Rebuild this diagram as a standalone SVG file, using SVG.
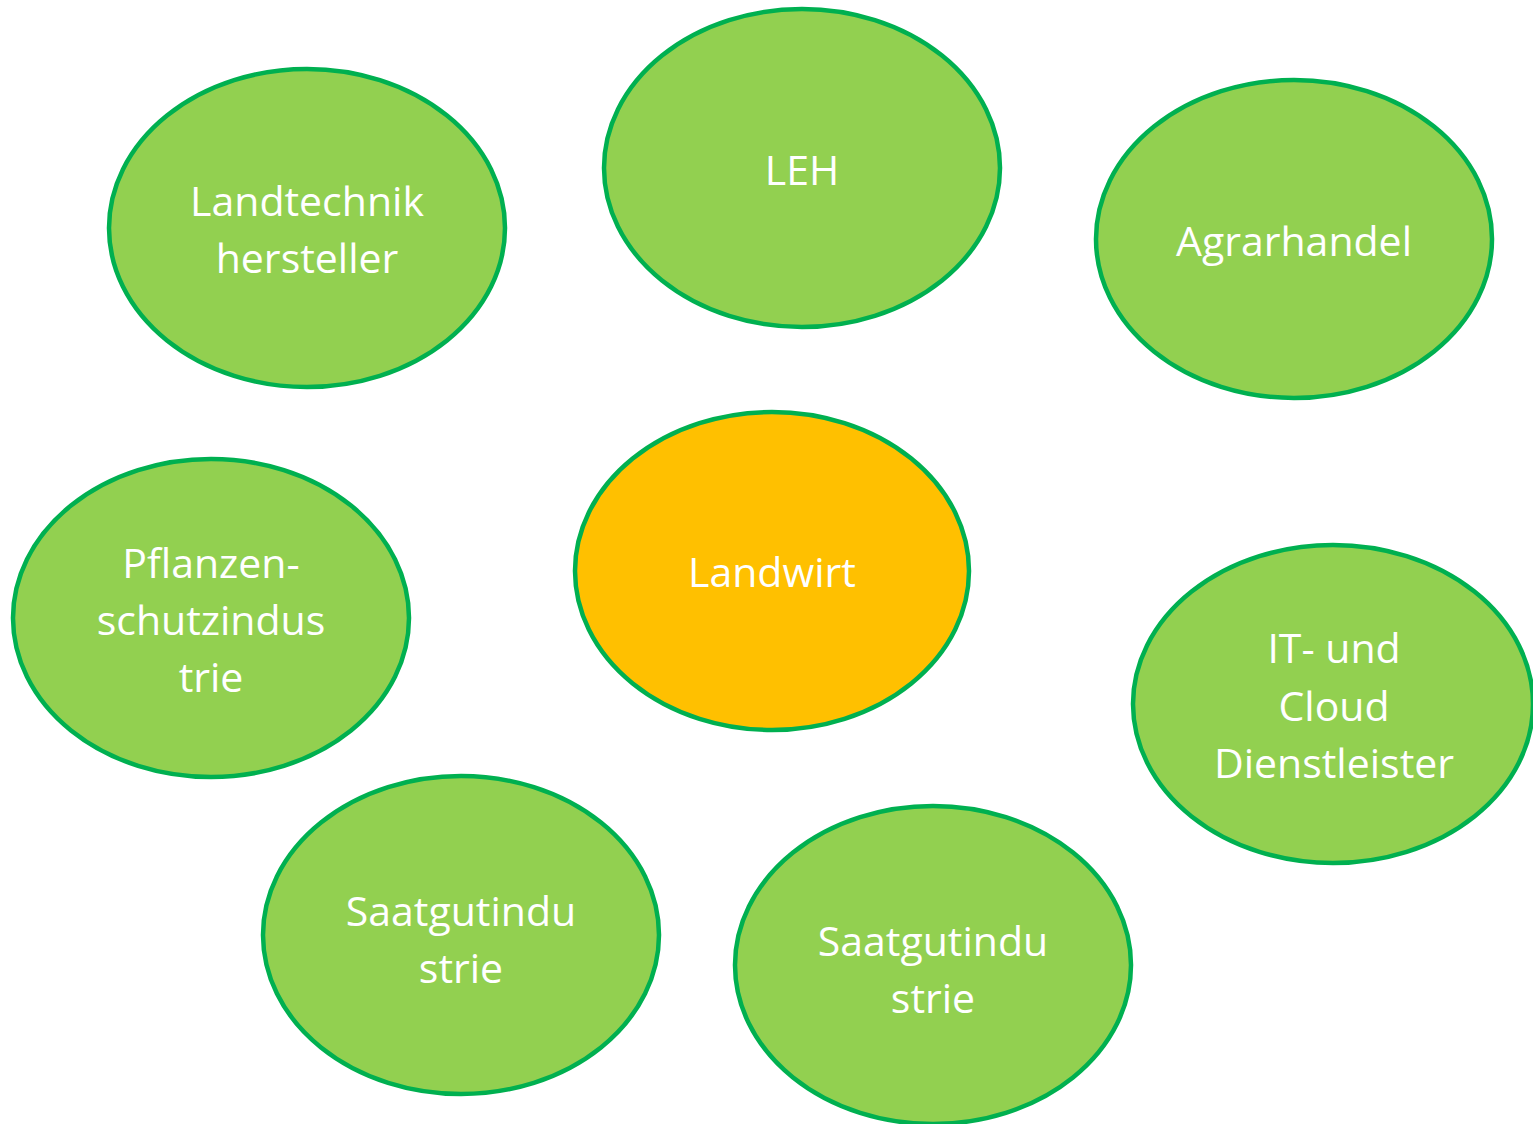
<svg xmlns="http://www.w3.org/2000/svg" width="1533" height="1124" viewBox="0 0 1533 1124">
<style>
.n{fill:#92D050;stroke:#00B050;stroke-width:4.5}
.c{fill:#FFC000;stroke:#00B050;stroke-width:4.5}
text{font-family:"Open Sans","Liberation Sans",sans-serif;font-size:41px;fill:#FFFFFF;text-anchor:middle}
</style>
<rect width="1533" height="1124" fill="#FFFFFF"/>
<g id="connectors"></g>
<g id="landtechnik"><ellipse class="n" cx="307" cy="228" rx="198" ry="159"/><text x="307" y="216">Landtechnik</text><text x="307" y="273">hersteller</text></g>
<g id="leh"><ellipse class="n" cx="802" cy="168" rx="198" ry="159"/><text x="802" y="185">LEH</text></g>
<g id="agrarhandel"><ellipse class="n" cx="1294" cy="239" rx="198" ry="159"/><text x="1294" y="256">Agrarhandel</text></g>
<g id="landwirt"><ellipse class="c" cx="772" cy="571" rx="197" ry="159"/><text x="772" y="587">Landwirt</text></g>
<g id="pflanzenschutz"><ellipse class="n" cx="211" cy="618" rx="198" ry="159"/><text x="211" y="578">Pflanzen-</text><text x="211" y="635">schutzindus</text><text x="211" y="692">trie</text></g>
<g id="it-cloud"><ellipse class="n" cx="1333" cy="704" rx="200" ry="159"/><text x="1334" y="663">IT- und</text><text x="1334" y="721">Cloud</text><text x="1334" y="778">Dienstleister</text></g>
<g id="saatgut1"><ellipse class="n" cx="461" cy="935" rx="198" ry="159"/><text x="461" y="926">Saatgutindu</text><text x="461" y="983">strie</text></g>
<g id="saatgut2"><ellipse class="n" cx="933" cy="965" rx="198" ry="159"/><text x="933" y="956">Saatgutindu</text><text x="933" y="1013">strie</text></g>
</svg>
